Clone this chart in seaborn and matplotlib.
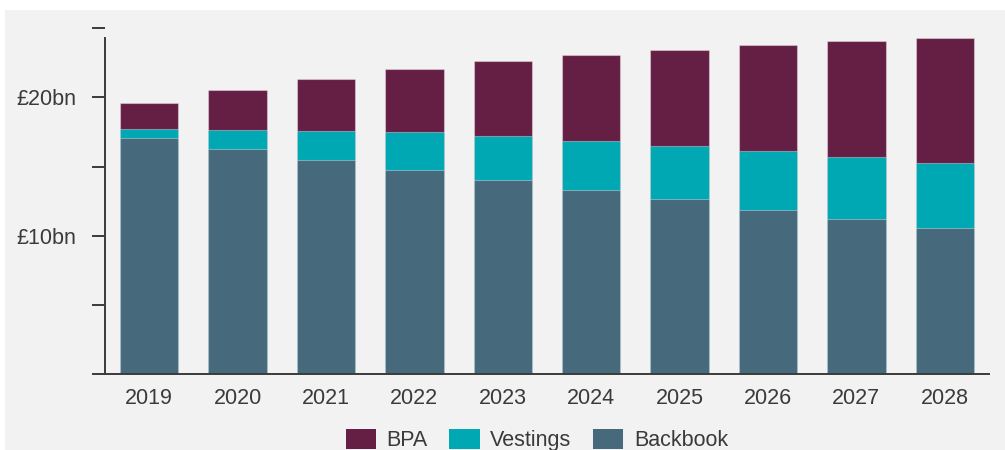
import matplotlib
matplotlib.use("Agg")
import matplotlib.pyplot as plt
from matplotlib.patches import Rectangle, Patch
import numpy as np
import pandas as pd
import seaborn as sns

# Projected balances by year, £bn
years = ["2019", "2020", "2021", "2022", "2023", "2024", "2025", "2026", "2027", "2028"]
backbook = [17.04, 16.25, 15.50, 14.77, 14.03, 13.30, 12.63, 11.89, 11.23, 10.58]
vestings = [0.65, 1.39, 2.07, 2.71, 3.16, 3.56, 3.88, 4.23, 4.46, 4.70]
bpa = [1.93, 2.87, 3.76, 4.57, 5.42, 6.18, 6.94, 7.65, 8.37, 9.02]

series_names = ["BPA", "Vestings", "Backbook"]
colors = {"BPA": "#651f45", "Vestings": "#00a8b4", "Backbook": "#46697b"}
y_ticks = [0, 5, 10, 15, 20, 25]
y_labels = ["", "", "£10bn", "", "£20bn", ""]

sns.set_style("white")
plt.rcParams["font.family"] = ["Liberation Sans", "DejaVu Sans"]

BG = "#f2f2f2"
TEXT = "#3a3a3a"
AXIS = "#3a3a3a"
FS = 15.5

fig = plt.figure(figsize=(10.05, 4.5), dpi=100, facecolor="white")
fig.patches.append(Rectangle((5 / 1005, 0), 1.0, 1 - 10 / 450,
                             transform=fig.transFigure, facecolor=BG,
                             edgecolor="none", zorder=-10))

ax = fig.add_axes([105 / 1005, 76 / 450, (989 - 105) / 1005, (421.7 - 76) / 450])
ax.set_facecolor("none")

df = pd.DataFrame({"year": years, "Backbook": backbook,
                   "Vestings": vestings, "BPA": bpa})
df["lvl_backbook"] = df["Backbook"]
df["lvl_vestings"] = df["Backbook"] + df["Vestings"]
df["lvl_bpa"] = df["lvl_vestings"] + df["BPA"]

edge = (1, 1, 1, 0.35)
for col, name in [("lvl_bpa", "BPA"), ("lvl_vestings", "Vestings"),
                  ("lvl_backbook", "Backbook")]:
    sns.barplot(data=df, x="year", y=col, color=colors[name], width=0.66,
                saturation=1, edgecolor=edge, linewidth=0.8, ax=ax)

ax.set_xlim(-0.5, len(years) - 0.5)
ax.set_ylim(0, 25)
ax.set_yticks(y_ticks)
ax.set_yticklabels(y_labels)
ax.set_xlabel("")
ax.set_ylabel("")

for s in ["top", "right"]:
    ax.spines[s].set_visible(False)
ax.spines["left"].set_bounds(0, float(df["lvl_bpa"].max()))
for s in ["left", "bottom"]:
    ax.spines[s].set_color(AXIS)
    ax.spines[s].set_linewidth(1.4)

ax.tick_params(axis="y", which="both", left=True, length=9.4, width=1.4,
               color=AXIS, pad=11, labelsize=FS, labelcolor=TEXT)
ax.tick_params(axis="x", bottom=False, length=0, pad=10, labelsize=FS,
               labelcolor=TEXT)

handles = [Patch(facecolor=colors[n], edgecolor="none", label=n) for n in series_names]
fig.legend(handles=handles, loc="center", bbox_to_anchor=(537 / 1005, 1 - 440 / 450),
           ncol=3, frameon=False, fontsize=FS, labelcolor=TEXT,
           handlelength=1.4, handleheight=1.1, handletextpad=0.5,
           columnspacing=1.0, borderaxespad=0, borderpad=0)

fig.savefig("out.png", dpi=100, facecolor="white")
